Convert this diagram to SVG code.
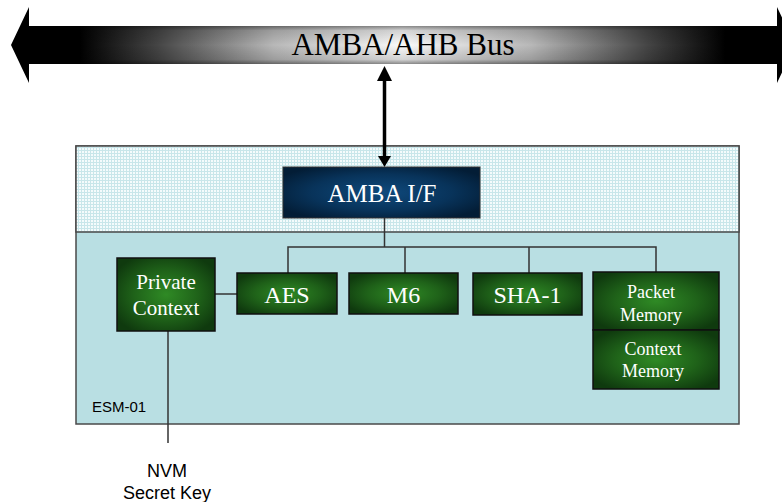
<svg xmlns="http://www.w3.org/2000/svg" width="782" height="502" viewBox="0 0 782 502">
<defs>
<linearGradient id="busH" x1="0" y1="0" x2="1" y2="0">
<stop offset="0" stop-color="#000"/>
<stop offset="0.12" stop-color="#454545"/>
<stop offset="0.3" stop-color="#b8b8b8"/>
<stop offset="0.5" stop-color="#fafafa"/>
<stop offset="0.7" stop-color="#b8b8b8"/>
<stop offset="0.88" stop-color="#454545"/>
<stop offset="1" stop-color="#000"/>
</linearGradient>
<linearGradient id="busV" x1="0" y1="0" x2="0" y2="1">
<stop offset="0" stop-color="#000" stop-opacity="0.45"/>
<stop offset="0.12" stop-color="#000" stop-opacity="0.15"/>
<stop offset="0.5" stop-color="#000" stop-opacity="0"/>
<stop offset="0.88" stop-color="#000" stop-opacity="0.15"/>
<stop offset="1" stop-color="#000" stop-opacity="0.45"/>
</linearGradient>
<radialGradient id="green" cx="0.5" cy="0.5" r="0.6">
<stop offset="0" stop-color="#2f8a25"/>
<stop offset="0.55" stop-color="#1f6219"/>
<stop offset="1" stop-color="#0f3a0e"/>
</radialGradient>
<radialGradient id="navy" cx="0.5" cy="0.5" r="0.6">
<stop offset="0" stop-color="#0f4a7d"/>
<stop offset="0.6" stop-color="#08335a"/>
<stop offset="1" stop-color="#031d36"/>
</radialGradient>
<pattern id="grid" width="3" height="3" patternUnits="userSpaceOnUse">
<rect width="3" height="3" fill="#f4fbfc"/>
<path d="M0,0.5H3M0.5,0V3" stroke="#c8e6ea" stroke-width="1"/>
</pattern>
<style>
.blk{fill:url(#green);stroke:#111;stroke-width:1.5}
.t{font-family:"Liberation Serif","Times New Roman",serif;fill:#fff;text-anchor:middle}
.s{font-family:"Liberation Sans",Arial,sans-serif;fill:#000}
.con{stroke:#333;stroke-width:1.5;fill:none}
</style>
</defs>

<g id="bus">
<rect x="80" y="26" width="645" height="38" fill="url(#busH)"/>
<rect x="80" y="26" width="645" height="38" fill="url(#busV)"/>
<path d="M80,26 L29,26 L29,7 L11,45 L29,83 L29,64 L80,64 Z" fill="#000"/>
<path d="M725,26 L777,26 L777,7 L795,45 L777,83 L777,64 L725,64 Z" fill="#000"/>
<text x="403" y="55" font-family="Liberation Serif,'Times New Roman',serif" font-size="31" text-anchor="middle" fill="#000">AMBA/AHB Bus</text>
</g>

<g id="esm">
<rect x="76" y="146" width="663" height="278" fill="#b9dfe3" stroke="#4a4a4a" stroke-width="1.5"/>
<rect x="76" y="146" width="663" height="86" fill="url(#grid)" stroke="#4a4a4a" stroke-width="1.5"/>
<text class="s" x="92" y="412" font-size="15">ESM-01</text>
</g>

<g id="connectors">
<line x1="384.5" y1="79" x2="384.5" y2="158" stroke="#000" stroke-width="3.5"/>
<polygon points="384.5,66 377,81 392,81" fill="#000"/>
<polygon points="384.5,167 378,156 391,156" fill="#000"/>
<path class="con" d="M384.5,218 V247 M288,273 V247 H656 V272 M405,247 V273 M529,247 V273"/>
<path class="con" d="M215,294 H237"/>
<path class="con" d="M168,331 V443"/>
</g>

<g id="amba-if">
<rect x="283" y="167" width="197" height="51" fill="url(#navy)" stroke="#333" stroke-width="1"/>
<text class="t" x="382" y="202" font-size="25">AMBA I/F</text>
</g>

<g id="private-context">
<rect class="blk" x="117" y="258" width="98" height="73"/>
<text class="t" x="166" y="289" font-size="21">Private</text>
<text class="t" x="166" y="315" font-size="21">Context</text>
</g>

<g id="aes">
<rect class="blk" x="237" y="273" width="100" height="41"/>
<text class="t" x="287" y="302.5" font-size="24">AES</text>
</g>

<g id="m6">
<rect class="blk" x="349" y="273" width="109" height="41"/>
<text class="t" x="403.5" y="302.5" font-size="24">M6</text>
</g>

<g id="sha1">
<rect class="blk" x="473" y="273" width="109" height="42"/>
<text class="t" x="527.5" y="302.5" font-size="24">SHA-1</text>
</g>

<g id="packet-memory">
<rect class="blk" x="593" y="272" width="126" height="58"/>
<text class="t" x="651" y="298" font-size="18">Packet</text>
<text class="t" x="651" y="320.5" font-size="18">Memory</text>
</g>

<g id="context-memory">
<rect class="blk" x="593" y="330" width="126" height="59"/>
<text class="t" x="653" y="355" font-size="18">Context</text>
<text class="t" x="653" y="376.5" font-size="18">Memory</text>
</g>

<g id="nvm">
<text class="s" x="167" y="477" font-size="18" text-anchor="middle">NVM</text>
<text class="s" x="167" y="499" font-size="18" text-anchor="middle">Secret Key</text>
</g>
</svg>
